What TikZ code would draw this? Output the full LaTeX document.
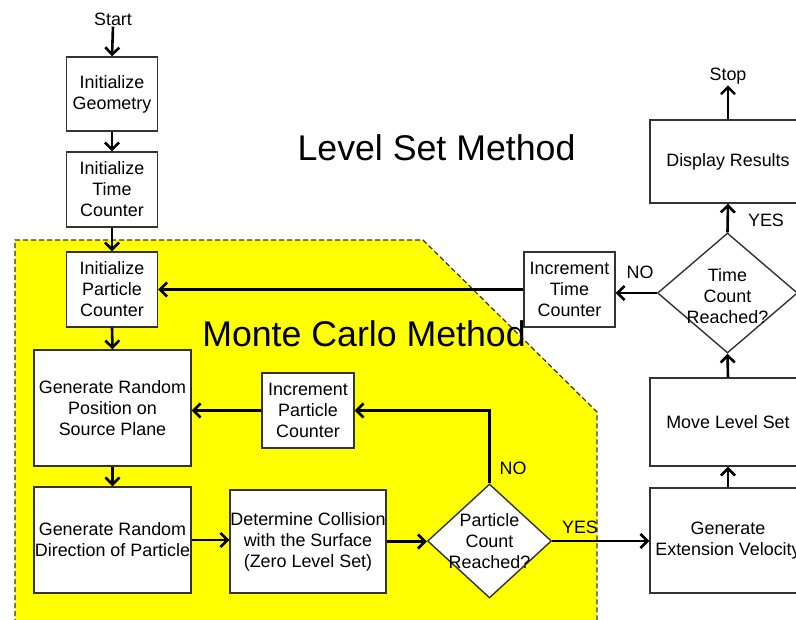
\documentclass[tikz,border=0pt]{standalone}
\usepackage{fontspec}
\setmainfont{Liberation Sans}
\usetikzlibrary{arrows.meta,shapes.geometric,calc}
\definecolor{boxline}{HTML}{333333}
\definecolor{mcyellow}{HTML}{FFFF00}
\tikzset{
  box/.style={draw=boxline, line width=1.4pt, fill=white, align=center, inner sep=0pt,
    font=\fontsize{17.9}{21}\selectfont},
  decision/.style={draw=boxline, line width=1.4pt, fill=white, shape=diamond, inner sep=0pt},
  dtext/.style={align=center, inner sep=0pt, font=\fontsize{17.9}{21}\selectfont},
  lbl/.style={inner sep=1pt, font=\fontsize{17.9}{21}\selectfont},
  title/.style={inner sep=0pt, font=\fontsize{35.7}{42}\selectfont},
  arr/.style={draw=black, line width=2.6pt, -{Straight Barb[length=7pt,width=14pt]}},
}
\begin{document}
\begin{tikzpicture}[x=1pt,y=-1pt]
\useasboundingbox (0,0) rectangle (796,620);
\clip (0,0) rectangle (796,620);
\fill[white] (0,0) rectangle (796,620);
% Monte Carlo region
\fill[mcyellow] (15,240) -- (423,240) -- (597,412) -- (597,640) -- (15,640) -- cycle;
\draw[boxline, line width=1.2pt, dash pattern=on 5pt off 3pt] (15,640) -- (15,240) -- (423,240) -- (597,412) -- (597,640);

% titles
\node[title, anchor=base] (lsm) at (436.5,160.7) {Level Set Method};
\node[title, anchor=base] (mcm) at (364,346.7) {Monte Carlo Method};

% nodes
\node[lbl] (start) at (113,19) {Start};
\node[box, minimum width=91, minimum height=74] (geo) at (112,94) {Initialize\\Geometry};
\node[box, minimum width=91, minimum height=75] (itc) at (112,189.5) {Initialize\\Time\\Counter};
\node[box, minimum width=91, minimum height=75] (ipc) at (112,289.5) {Initialize\\Particle\\Counter};
\node[box, minimum width=157, minimum height=116] (grp) at (112.5,408) {Generate Random\\Position on\\Source Plane};
\node[box, minimum width=157, minimum height=106] (grd) at (112.5,540) {Generate Random\\Direction of Particle};
\node[box, minimum width=156, minimum height=103] (dcs) at (308,541.5) {Determine Collision\\with the Surface\\(Zero Level Set)};
\node[decision, minimum width=124, minimum height=114] (pcr) at (489.5,541) {};
\node[dtext] (pcrt) at (489.5,541) {Particle\\Count\\Reached?};
\node[box, minimum width=92, minimum height=75] (inpc) at (308,410.5) {Increment\\Particle\\Counter};
\node[box, minimum width=156, minimum height=105] (gev) at (728,540.5) {Generate\\Extension Velocity};
\node[box, minimum width=156, minimum height=88] (mls) at (728,422) {Move Level Set};
\node[decision, minimum width=140, minimum height=120] (tcr) at (727.5,293) {};
\node[dtext] (tcrt) at (727.5,296) {Time\\Count\\Reached?};
\node[box, minimum width=91, minimum height=75] (intc) at (569.5,289.5) {Increment\\Time\\Counter};
\node[box, minimum width=156, minimum height=83] (dr) at (728,161.5) {Display Results};
\node[lbl] (stop) at (728,76) {Stop};

% connectors
\draw[arr] (start.south) -- (geo.north);
\draw[arr] (geo.south) -- (itc.north);
\draw[arr] (itc.south) -- (ipc.north);
\draw[arr] (ipc.south) -- (grp.north);
\draw[arr] (grp.south) -- (grd.north);
\draw[arr] (grd.east) -- (grd.east -| dcs.west);
\draw[arr] (dcs.east) -- (dcs.east -| pcr.west);
\draw[arr] (pcr.north) |- (inpc.east);
\draw[arr] (inpc.west) -- (inpc.west -| grp.east);
\draw[arr] (pcr.east) -- (pcr.east -| gev.west);
\draw[arr] (gev.north) -- (mls.south);
\draw[arr] (mls.north) -- (tcr.south);
\draw[arr] (tcr.north) -- (dr.south);
\draw[arr] (dr.north) -- (stop.south);
\draw[arr] (tcr.west) -- (tcr.west -| intc.east);
\draw[arr] (intc.west) -- (intc.west -| ipc.east);

% labels
\node[lbl] (yes1) at (580,527) {YES};
\node[lbl] (no1) at (513,468) {NO};
\node[lbl] (yes2) at (766,220) {YES};
\node[lbl] (no2) at (640,272) {NO};
\end{tikzpicture}
\end{document}
